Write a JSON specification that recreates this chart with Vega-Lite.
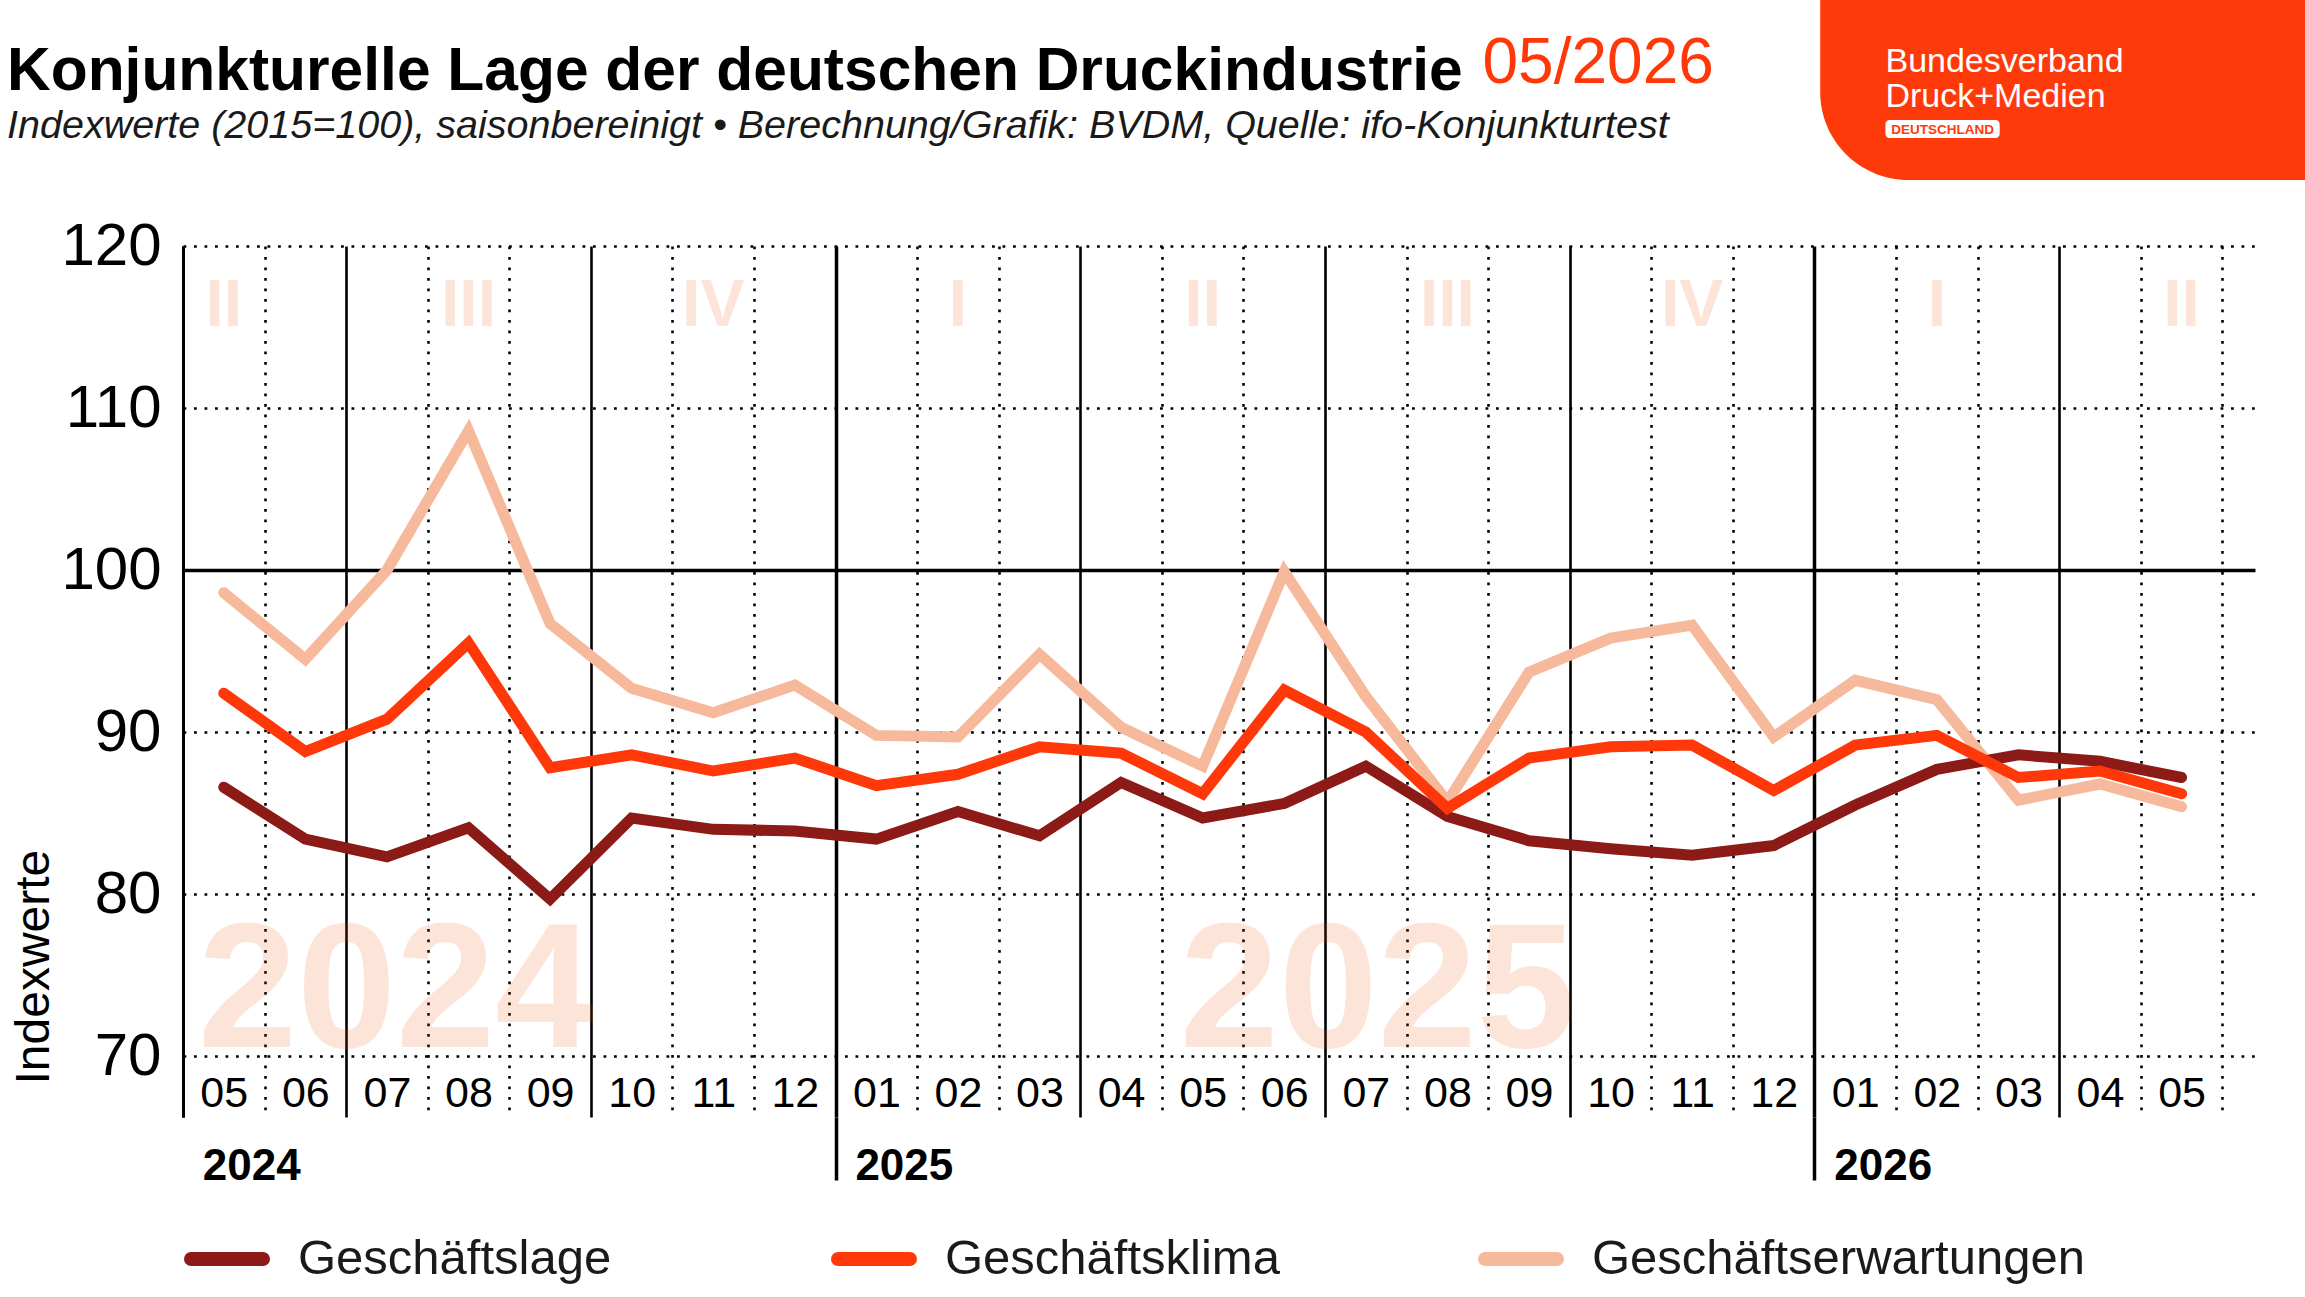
{
  "$schema": "https://vega.github.io/schema/vega-lite/v6.json",
  "autosize": "none",
  "width": 2072,
  "height": 871,
  "padding": {"left": 183, "top": 246, "right": 50, "bottom": 180},
  "background": "white",
  "config": {"font": "Liberation Sans", "view": {"stroke": null}},
  "resolve": {"axis": {"x": "independent"}},
  "title": {
    "text": "Konjunkturelle Lage der deutschen Druckindustrie",
    "subtitle": "Indexwerte (2015=100), saisonbereinigt • Berechnung/Grafik: BVDM, Quelle: ifo-Konjunkturtest",
    "anchor": "start",
    "frame": "group",
    "dx": -176,
    "dy": 151,
    "offset": 0,
    "font": "Liberation Sans",
    "fontSize": 60.5,
    "fontWeight": "bold",
    "color": "#000000",
    "subtitleFont": "Liberation Sans",
    "subtitleFontSize": 39.5,
    "subtitleFontStyle": "italic",
    "subtitleColor": "#1a1a1a",
    "subtitlePadding": 5
  },
  "datasets": {
    "index": [
      {"i": 0, "Monat": "2024-05", "Geschäftslage": 86.6, "Geschäftsklima": 92.4, "Geschäftserwartungen": 98.6},
      {"i": 1, "Monat": "2024-06", "Geschäftslage": 83.4, "Geschäftsklima": 88.8, "Geschäftserwartungen": 94.5},
      {"i": 2, "Monat": "2024-07", "Geschäftslage": 82.3, "Geschäftsklima": 90.8, "Geschäftserwartungen": 100.0},
      {"i": 3, "Monat": "2024-08", "Geschäftslage": 84.1, "Geschäftsklima": 95.5, "Geschäftserwartungen": 108.6},
      {"i": 4, "Monat": "2024-09", "Geschäftslage": 79.7, "Geschäftsklima": 87.8, "Geschäftserwartungen": 96.7},
      {"i": 5, "Monat": "2024-10", "Geschäftslage": 84.7, "Geschäftsklima": 88.6, "Geschäftserwartungen": 92.7},
      {"i": 6, "Monat": "2024-11", "Geschäftslage": 84.0, "Geschäftsklima": 87.6, "Geschäftserwartungen": 91.2},
      {"i": 7, "Monat": "2024-12", "Geschäftslage": 83.9, "Geschäftsklima": 88.4, "Geschäftserwartungen": 92.9},
      {"i": 8, "Monat": "2025-01", "Geschäftslage": 83.4, "Geschäftsklima": 86.7, "Geschäftserwartungen": 89.8},
      {"i": 9, "Monat": "2025-02", "Geschäftslage": 85.1, "Geschäftsklima": 87.4, "Geschäftserwartungen": 89.7},
      {"i": 10, "Monat": "2025-03", "Geschäftslage": 83.6, "Geschäftsklima": 89.1, "Geschäftserwartungen": 94.8},
      {"i": 11, "Monat": "2025-04", "Geschäftslage": 86.9, "Geschäftsklima": 88.7, "Geschäftserwartungen": 90.3},
      {"i": 12, "Monat": "2025-05", "Geschäftslage": 84.7, "Geschäftsklima": 86.2, "Geschäftserwartungen": 87.9},
      {"i": 13, "Monat": "2025-06", "Geschäftslage": 85.6, "Geschäftsklima": 92.6, "Geschäftserwartungen": 99.9},
      {"i": 14, "Monat": "2025-07", "Geschäftslage": 87.9, "Geschäftsklima": 90.0, "Geschäftserwartungen": 92.2},
      {"i": 15, "Monat": "2025-08", "Geschäftslage": 84.8, "Geschäftsklima": 85.3, "Geschäftserwartungen": 85.7},
      {"i": 16, "Monat": "2025-09", "Geschäftslage": 83.3, "Geschäftsklima": 88.4, "Geschäftserwartungen": 93.7},
      {"i": 17, "Monat": "2025-10", "Geschäftslage": 82.8, "Geschäftsklima": 89.1, "Geschäftserwartungen": 95.8},
      {"i": 18, "Monat": "2025-11", "Geschäftslage": 82.4, "Geschäftsklima": 89.2, "Geschäftserwartungen": 96.6},
      {"i": 19, "Monat": "2025-12", "Geschäftslage": 83.0, "Geschäftsklima": 86.4, "Geschäftserwartungen": 89.7},
      {"i": 20, "Monat": "2026-01", "Geschäftslage": 85.5, "Geschäftsklima": 89.2, "Geschäftserwartungen": 93.2},
      {"i": 21, "Monat": "2026-02", "Geschäftslage": 87.7, "Geschäftsklima": 89.8, "Geschäftserwartungen": 92.0},
      {"i": 22, "Monat": "2026-03", "Geschäftslage": 88.6, "Geschäftsklima": 87.2, "Geschäftserwartungen": 85.8},
      {"i": 23, "Monat": "2026-04", "Geschäftslage": 88.2, "Geschäftsklima": 87.6, "Geschäftserwartungen": 86.8},
      {"i": 24, "Monat": "2026-05", "Geschäftslage": 87.2, "Geschäftsklima": 86.2, "Geschäftserwartungen": 85.4}
    ],
    "quartale": [
      {"Quartal": "II", "i": 0},
      {"Quartal": "III", "i": 3},
      {"Quartal": "IV", "i": 6},
      {"Quartal": "I", "i": 9},
      {"Quartal": "II", "i": 12},
      {"Quartal": "III", "i": 15},
      {"Quartal": "IV", "i": 18},
      {"Quartal": "I", "i": 21},
      {"Quartal": "II", "i": 24}
    ],
    "jahre": [
      {"Jahr": "2024", "i": 0},
      {"Jahr": "2025", "i": 8},
      {"Jahr": "2026", "i": 20}
    ]
  },
  "layer": [
    {
      "data": {"values": [{"Jahr": "2024"}]},
      "mark": {"type": "text", "align": "left", "baseline": "alphabetic", "fontSize": 178, "fontWeight": "bold", "fill": "#F25202", "opacity": 0.15},
      "encoding": {
        "x": {"datum": -0.316, "type": "quantitative", "axis": null},
        "y": {"datum": 70.57, "type": "quantitative", "title": null},
        "text": {"field": "Jahr"}
      }
    },
    {
      "data": {"values": [{"Jahr": "2025"}]},
      "mark": {"type": "text", "align": "left", "baseline": "alphabetic", "fontSize": 178, "fontWeight": "bold", "fill": "#F25202", "opacity": 0.15},
      "encoding": {
        "x": {"datum": 11.72, "type": "quantitative", "axis": null},
        "y": {"datum": 70.57, "type": "quantitative", "title": null},
        "text": {"field": "Jahr"}
      }
    },
    {
      "data": {"name": "quartale"},
      "mark": {"type": "text", "align": "center", "baseline": "alphabetic", "fontSize": 66, "fontWeight": "bold", "fill": "#F25202", "opacity": 0.15},
      "encoding": {
        "x": {
          "field": "i",
          "type": "quantitative",
          "title": null,
          "axis": {
            "orient": "bottom",
            "values": [-0.5, 0.5, 1.5, 2.5, 3.5, 4.5, 5.5, 6.5, 7.5, 8.5, 9.5, 10.5, 11.5, 12.5, 13.5, 14.5, 15.5, 16.5, 17.5, 18.5, 19.5, 20.5, 21.5, 22.5, 23.5, 24.5],
            "labels": false,
            "domain": false,
            "grid": true,
            "gridColor": "#000000",
            "gridDash": {"condition": {"test": "indexof([-0.5,1.5,4.5,7.5,10.5,13.5,16.5,19.5,22.5], datum.value) >= 0", "value": []}, "value": [2.8, 7.7]},
            "gridWidth": {"condition": [{"test": "datum.value == 7.5 || datum.value == 19.5", "value": 3.5}, {"test": "datum.value == -0.5", "value": 3}], "value": 2.6},
            "ticks": true,
            "tickSize": 63,
            "tickWidth": 3.5,
            "tickColor": "#000000",
            "tickOpacity": {"condition": {"test": "datum.value == 7.5 || datum.value == 19.5", "value": 1}, "value": 0}
          }
        },
        "y": {"datum": 115.06, "type": "quantitative", "title": null},
        "text": {"field": "Quartal"}
      }
    },
    {
      "data": {"name": "index"},
      "transform": [
        {"fold": ["Geschäftserwartungen", "Geschäftslage", "Geschäftsklima"], "as": ["Reihe", "Wert"]}
      ],
      "mark": {"type": "line", "strokeWidth": 11, "strokeCap": "round", "strokeJoin": "miter"},
      "encoding": {
        "x": {
          "field": "i",
          "type": "quantitative",
          "title": null,
          "scale": {"domain": [-0.5, 24.9], "nice": false, "zero": false},
          "axis": {
            "orient": "bottom",
            "values": [0, 1, 2, 3, 4, 5, 6, 7, 8, 9, 10, 11, 12, 13, 14, 15, 16, 17, 18, 19, 20, 21, 22, 23, 24],
            "labelExpr": "['05','06','07','08','09','10','11','12','01','02','03','04','05','06','07','08','09','10','11','12','01','02','03','04','05'][datum.value]",
            "domain": false,
            "grid": false,
            "ticks": false,
            "labelPadding": -24,
            "labelBaseline": "middle",
            "labelAlign": "center",
            "labelFont": "Liberation Sans",
            "labelFontSize": 43,
            "labelColor": "#000000",
            "labelOverlap": false,
            "labelFlush": false,
            "labelBound": false
          }
        },
        "y": {
          "field": "Wert",
          "type": "quantitative",
          "scale": {"domain": [66.25, 120], "nice": false, "zero": false},
          "axis": {
            "values": [70, 80, 90, 100, 110, 120],
            "title": "Indexwerte",
            "titleFont": "Liberation Sans",
            "titleFontSize": 48,
            "titleFontWeight": "normal",
            "titleColor": "#000000",
            "titleAngle": -90,
            "titleAlign": "left",
            "titleBaseline": "alphabetic",
            "titleX": -135,
            "titleY": 838,
            "domain": true,
            "domainColor": "#000000",
            "domainWidth": 3,
            "ticks": false,
            "grid": true,
            "gridColor": "#000000",
            "gridDash": {"condition": {"test": "datum.value == 100", "value": []}, "value": [2.8, 7.7]},
            "gridWidth": {"condition": {"test": "datum.value == 100", "value": 3.5}, "value": 2.6},
            "labelPadding": 22,
            "labelFont": "Liberation Sans",
            "labelFontSize": 60,
            "labelColor": "#000000",
            "labelBaseline": "middle"
          }
        },
        "color": {
          "field": "Reihe",
          "type": "nominal",
          "scale": {"domain": ["Geschäftslage", "Geschäftsklima", "Geschäftserwartungen"], "range": ["#8C1A16", "#FF380A", "#F7B99B"]},
          "legend": {
            "orient": "none",
            "legendX": 1,
            "legendY": 970,
            "direction": "horizontal",
            "columns": 3,
            "gridAlign": "all",
            "columnPadding": 19,
            "title": null,
            "symbolType": "stroke",
            "symbolSize": 5184,
            "symbolStrokeWidth": 14,
            "symbolOpacity": 1,
            "labelFont": "Liberation Sans",
            "labelFontSize": 49,
            "labelColor": "#1a1a1a",
            "labelOffset": 28,
            "labelLimit": 0,
            "encode": {"symbols": {"update": {"strokeCap": {"value": "round"}}}}
          }
        }
      }
    },
    {
      "data": {"name": "jahre"},
      "mark": {"type": "text", "align": "left", "baseline": "alphabetic", "fontSize": 44, "fontWeight": "bold", "fill": "#000000", "dx": -21},
      "encoding": {
        "x": {"field": "i", "type": "quantitative", "axis": null},
        "y": {"datum": 62.36, "type": "quantitative", "title": null},
        "text": {"field": "Jahr"}
      }
    },
    {
      "data": {"values": [{"Stand": "05/2026"}]},
      "mark": {"type": "text", "align": "left", "baseline": "alphabetic", "fontSize": 64, "fill": "#FF380A"},
      "encoding": {
        "x": {"datum": 15.43, "type": "quantitative", "axis": null},
        "y": {"datum": 130.05, "type": "quantitative", "title": null},
        "text": {"field": "Stand"}
      }
    },
    {
      "data": {"values": [{"Logo": "BVDM"}]},
      "mark": {"type": "rect", "fill": "#FF3A0A", "cornerRadiusBottomLeft": 88},
      "encoding": {
        "x": {"datum": 19.57, "type": "quantitative", "axis": null},
        "x2": {"datum": 25.6},
        "y": {"datum": 135.5, "type": "quantitative", "title": null},
        "y2": {"datum": 124.07}
      }
    },
    {
      "data": {"values": [{"Zeile": "Bundesverband"}]},
      "mark": {"type": "text", "align": "left", "baseline": "alphabetic", "fontSize": 34, "fill": "#FFFFFF"},
      "encoding": {
        "x": {"datum": 20.37, "type": "quantitative", "axis": null},
        "y": {"datum": 130.74, "type": "quantitative", "title": null},
        "text": {"field": "Zeile"}
      }
    },
    {
      "data": {"values": [{"Zeile": "Druck+Medien"}]},
      "mark": {"type": "text", "align": "left", "baseline": "alphabetic", "fontSize": 34, "fill": "#FFFFFF"},
      "encoding": {
        "x": {"datum": 20.37, "type": "quantitative", "axis": null},
        "y": {"datum": 128.58, "type": "quantitative", "title": null},
        "text": {"field": "Zeile"}
      }
    },
    {
      "data": {"values": [{"Logo": "Badge"}]},
      "mark": {"type": "rect", "fill": "#FFFFFF", "cornerRadius": 4},
      "encoding": {
        "x": {"datum": 20.37, "type": "quantitative", "axis": null},
        "x2": {"datum": 21.77},
        "y": {"datum": 127.78, "type": "quantitative", "title": null},
        "y2": {"datum": 126.66}
      }
    },
    {
      "data": {"values": [{"Zeile": "DEUTSCHLAND"}]},
      "mark": {"type": "text", "align": "center", "baseline": "alphabetic", "fontSize": 13.5, "fontWeight": "bold", "fill": "#FF3A0A"},
      "encoding": {
        "x": {"datum": 21.07, "type": "quantitative", "axis": null},
        "y": {"datum": 126.91, "type": "quantitative", "title": null},
        "text": {"field": "Zeile"}
      }
    }
  ]
}
